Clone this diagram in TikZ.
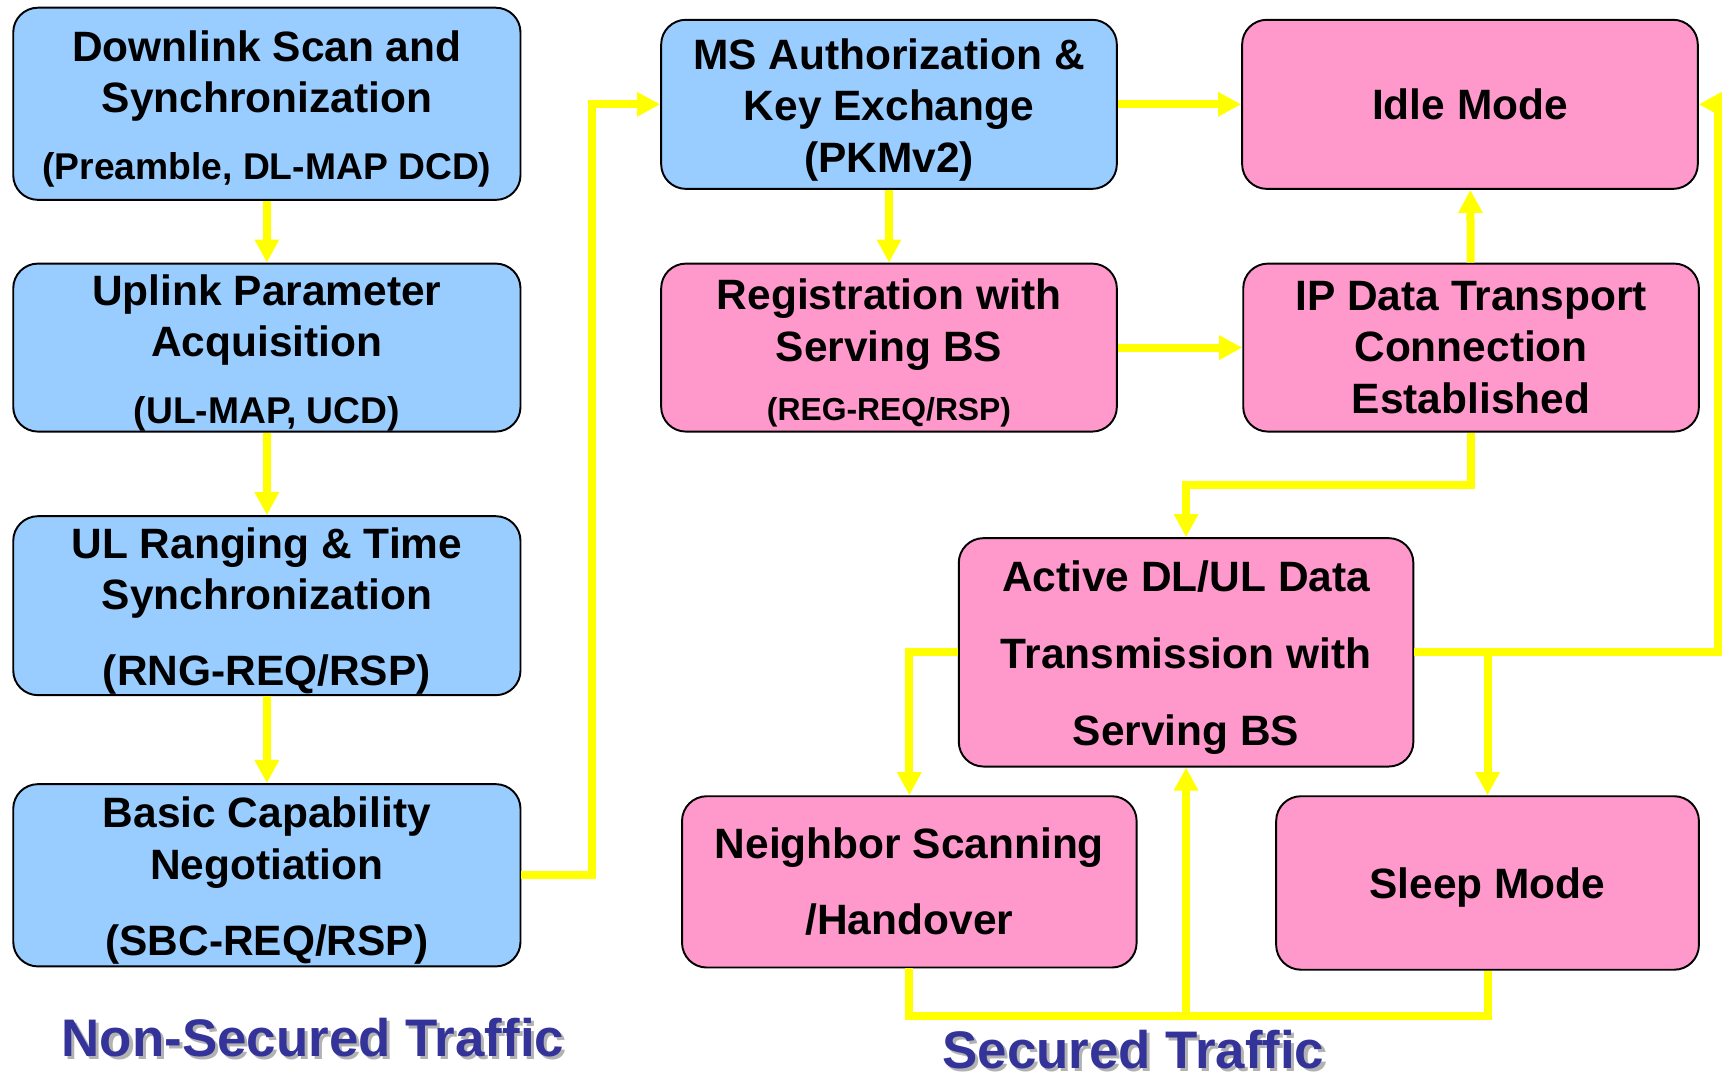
\documentclass[tikz,border=0pt]{standalone}
\usepackage{fontspec}
\setmainfont{Liberation Sans}
\usepackage{xcolor}
\usetikzlibrary{arrows.meta, positioning}

\definecolor{nsblue}{HTML}{99CCFF}
\definecolor{spink}{HTML}{FF99CC}
\definecolor{flowyellow}{HTML}{FFFF00}
\definecolor{capblue}{HTML}{333399}
\newcommand{\subsize}{\fontsize{19.3}{26.75}\selectfont}
\newcommand{\tinysize}{\fontsize{16.5}{26.75}\selectfont}
\newcommand{\topgap}{\rule{0pt}{21.5pt}}
\newcommand{\capshadow}[1]{\makebox[0pt][l]{\hspace{1.6pt}\raisebox{-1.6pt}{\textcolor{gray!60}{#1}}}#1}

\begin{document}
\begin{tikzpicture}[x=0.02cm, y=-0.02cm,
  box/.style={rectangle, draw, line width=1pt, rounded corners=0.45cm,
              align=center, inner sep=0pt, font=\fontsize{22}{26.75}\selectfont\bfseries},
  nsbox/.style={box, fill=nsblue},
  sbox/.style={box, fill=spink},
  link/.style={draw=flowyellow, line width=0.146cm},
  arrow/.style={link, -{Triangle[length=0.42cm, width=0.42cm]}},
  caption/.style={text=capblue, inner sep=0pt, font=\fontsize{27.4}{32}\selectfont\bfseries}
]
\useasboundingbox (0,0) rectangle (1568,981);

\node[nsbox, minimum width=9.24cm, minimum height=3.5cm]  (dlscan)   at (243,94.5)
  {\topgap Downlink Scan and\\Synchronization\\[0.28cm]{\subsize (Preamble, DL-MAP DCD)}};
\node[nsbox, minimum width=9.24cm, minimum height=3.06cm] (ulparam)  at (243,316.5)
  {\topgap Uplink Parameter\\Acquisition\\[0.28cm]{\subsize (UL-MAP, UCD)}};
\node[nsbox, minimum width=9.24cm, minimum height=3.26cm] (ranging)  at (243,551.5)
  {\topgap UL Ranging \& Time\\Synchronization\\[0.44cm](RNG-REQ/RSP)};
\node[nsbox, minimum width=9.24cm, minimum height=3.32cm] (basiccap) at (243,797)
  {\topgap Basic Capability\\Negotiation\\[0.44cm](SBC-REQ/RSP)};

\node[nsbox, minimum width=8.3cm, minimum height=3.08cm] (msauth) at (809.5,95)
  {\topgap MS Authorization \&\\Key Exchange\\(PKMv2)};
\node[sbox, minimum width=8.3cm, minimum height=3.08cm, text depth=0pt] (idle) at (1338.5,95) {Idle Mode};
\node[sbox, minimum width=8.3cm, minimum height=3.06cm]  (regist) at (809.5,316.5)
  {\topgap Registration with\\Serving BS\\[0.14cm]{\tinysize (REG-REQ/RSP)}};
\node[sbox, minimum width=8.3cm, minimum height=3.06cm]  (ipdata) at (1339.5,316.5)
  {IP Data Transport\\Connection\\Established};
\node[sbox, minimum width=8.28cm, minimum height=4.16cm] (active) at (1080,594)
  {\topgap Active DL/UL Data\\[0.46cm]Transmission with\\[0.46cm]Serving BS};
\node[sbox, minimum width=8.28cm, minimum height=3.12cm] (neighbor) at (828,803)
  {Neighbor Scanning\\[0.44cm]/Handover};
\node[sbox, minimum width=7.7cm, minimum height=3.16cm, text depth=0pt] (sleep) at (1354.5,804) {Sleep Mode};

\node[caption] (nonsec) at (285,946)  {\capshadow{Non-Secured Traffic}};
\node[caption] (sec)    at (1032,957) {\capshadow{Secured Traffic}};

\coordinate (join) at (1080,925);

\draw[arrow] (dlscan) -- (ulparam);
\draw[arrow] (ulparam) -- (ranging);
\draw[arrow] (ranging) -- (basiccap);
\draw[arrow] (basiccap.east) -- ++(64,0) |- (msauth.west);
\draw[arrow] (msauth) -- (idle);
\draw[arrow] (msauth) -- (regist);
\draw[arrow] (regist) -- (ipdata);
\draw[arrow] (ipdata) -- (idle);
\draw[arrow] (ipdata.south) -- ++(0,48) -| (active.north);
\draw[arrow] (active.west) -| (neighbor.north);
\draw[arrow] (active.east) -| (sleep.north);
\draw[arrow] (active.east) -- (1564.5,594) |- (idle.east);
\draw[link]  (neighbor.south) |- (join);
\draw[arrow] (sleep.south) |- (join) -- (active.south);
\end{tikzpicture}
\end{document}
